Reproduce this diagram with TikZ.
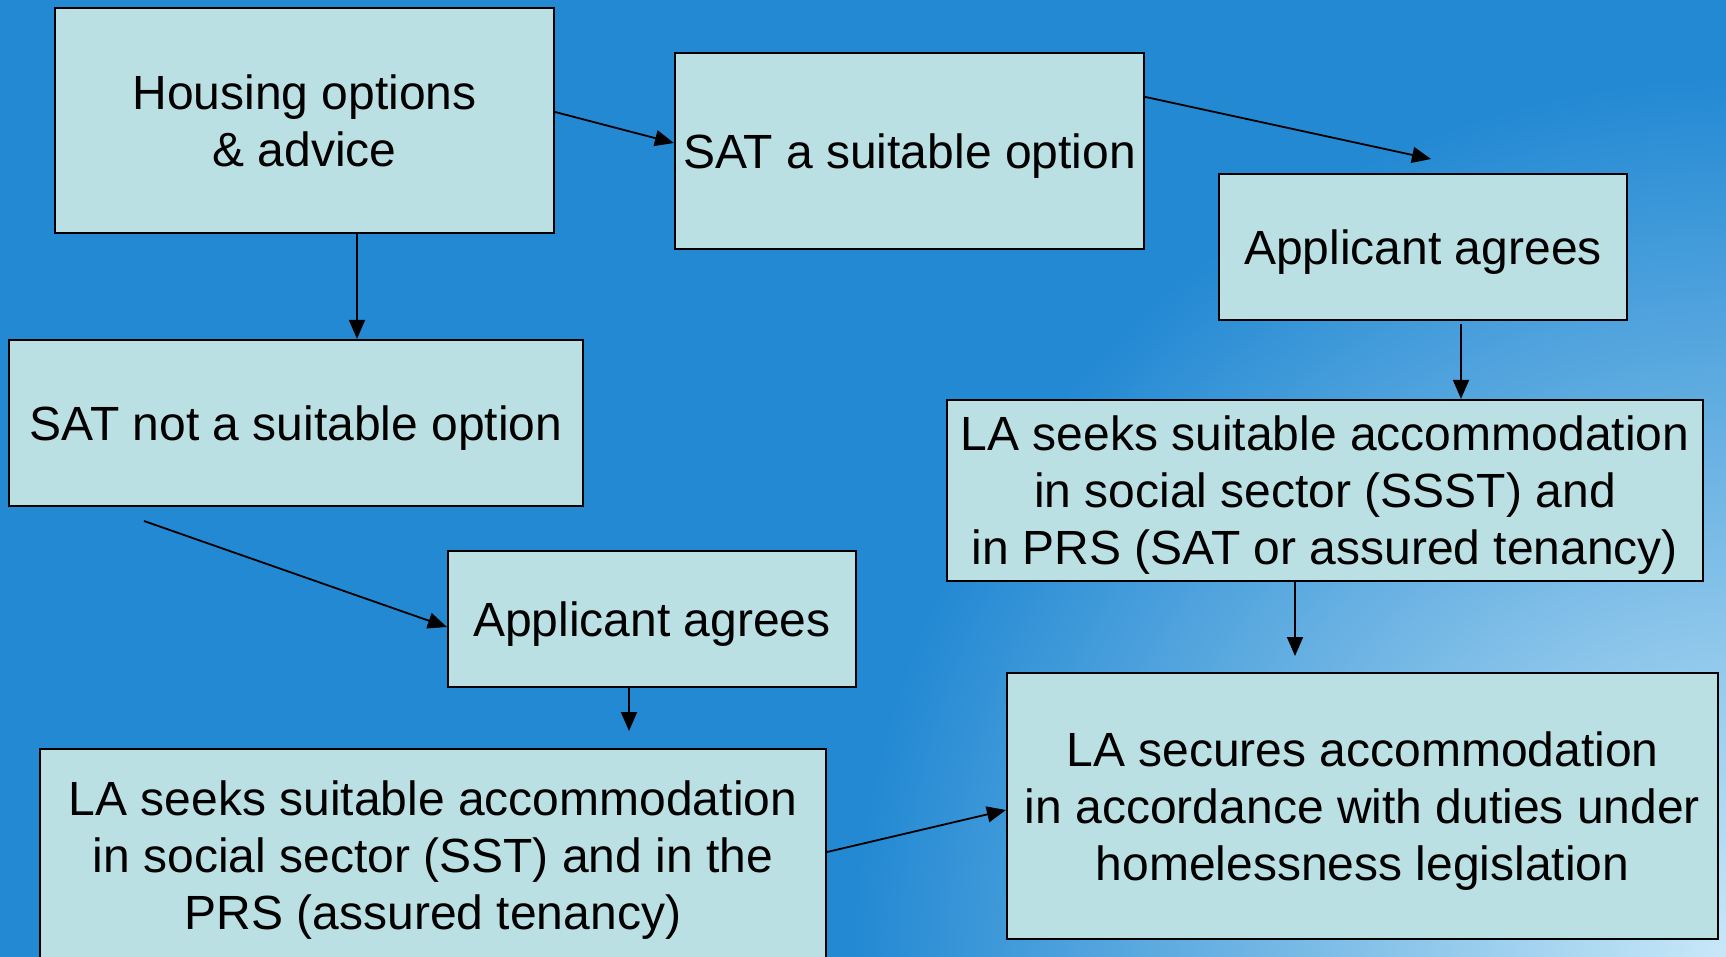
\documentclass[tikz,border=0pt]{standalone}
\usepackage{fontspec}
\setmainfont{Liberation Sans}
\usetikzlibrary{arrows.meta}
\definecolor{slideblue}{HTML}{2389D3}
\definecolor{slidelight}{HTML}{CDEBF9}
\definecolor{boxfill}{HTML}{BBE0E3}
\begin{document}
\begin{tikzpicture}[x=1pt, y=-1pt,
  boxtext/.style = {align=center, inner sep=0pt, yshift=-5pt,
                    font=\fontsize{48}{57}\selectfont},
  boxframe/.style = {draw=black, line width=2.2pt, fill=boxfill, inner sep=0pt},
  box/.style = {boxframe, label={[boxtext]center:{#1}}},
  boxhigh/.style = {boxframe, label={[boxtext, yshift=4.5pt]center:{#1}}},
  link/.style = {line width=1.8pt, -{Triangle[length=19pt,width=16pt]}}]
\useasboundingbox (0,0) rectangle (1726,957);
\fill[slideblue] (0,0) rectangle (1726,957);
\begin{scope}
\clip (0,0) rectangle (1726,957);
\shade[inner color=slidelight, outer color=slideblue] (1750,975) circle (900);
\end{scope}

\node[boxhigh={Housing options\\\& advice}, minimum width=499pt, minimum height=225pt] (housing) at (304.5,120.5) {};
\node[box={SAT a suitable option}, minimum width=469pt, minimum height=196pt] (satyes) at (909.5,151) {};
\node[box={Applicant agrees}, minimum width=408pt, minimum height=146pt] (agreeR) at (1423,247) {};
\node[box={SAT not a suitable option}, minimum width=574pt, minimum height=166pt] (satno) at (296,423) {};
\node[box={LA seeks suitable accommodation\\in social sector (SSST) and\\in PRS (SAT or assured tenancy)}, minimum width=756pt, minimum height=181pt] (seekR) at (1325,490.5) {};
\node[box={Applicant agrees}, minimum width=408pt, minimum height=136pt] (agreeL) at (652,619) {};
\node[box={LA seeks suitable accommodation\\in social sector (SST) and in the\\PRS (assured tenancy)}, minimum width=786pt, minimum height=212pt] (seekL) at (433,855) {};
\node[box={LA secures accommodation\\in accordance with duties under\\homelessness legislation}, minimum width=711pt, minimum height=266pt] (secures) at (1362.5,806) {};

% free ends
\coordinate (tipR) at (1431,159);
\coordinate (tailL) at (144,521);
\coordinate (tipA) at (629,731);
\coordinate (tipB) at (1295,656);

\draw[link] ([yshift=8.5pt]housing.east) -- ([yshift=8pt]satyes.west);
\draw[link] ([xshift=52.5pt]housing.south) -- ([xshift=52.5pt]housing.south |- satno.north);
\draw[link] ([yshift=-45pt]satyes.north east) -- (tipR);
\draw[link] ([xshift=38pt,yshift=-3pt]agreeR.south) -- ([xshift=38pt]agreeR.south |- seekR.north);
\draw[link] ([xshift=-30pt]seekR.south) -- (tipB);
\draw[link] (tailL) -- ([yshift=-8pt]agreeL.west);
\draw[link] ([xshift=-23pt]agreeL.south) -- (tipA);
\draw[link] ([yshift=3pt]seekL.east) -- ([yshift=-4pt]secures.west);
\end{tikzpicture}
\end{document}
